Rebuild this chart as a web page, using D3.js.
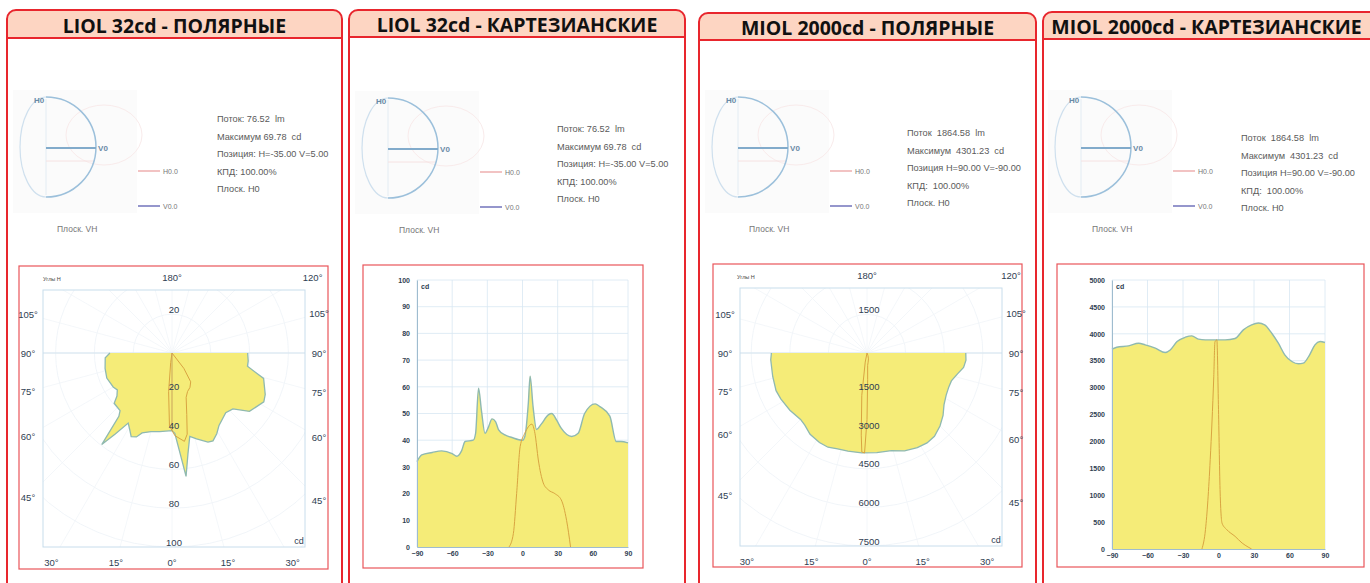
<!DOCTYPE html>
<html>
<head>
<meta charset="utf-8">
<script src="https://cdn.jsdelivr.net/npm/d3@7"></script>
<style>
  body { margin: 0; background: #fff; }
  svg { display: block; }
</style>
</head>
<body>
<svg id="chart" width="1370" height="583"></svg>
<script>
// titles and info texts
const titles = ["LIOL 32cd - ПОЛЯРНЫЕ", "LIOL 32cd - КАРТЕЗИАНСКИЕ", "MIOL 2000cd - ПОЛЯРНЫЕ", "MIOL 2000cd - КАРТЕЗИАНСКИЕ"];
const liolInfo = ["Поток: 76.52  lm", "Максимум 69.78  cd", "Позиция: H=-35.00 V=5.00", "КПД: 100.00%", "Плоск. H0"];
const miolInfo = ["Поток  1864.58  lm", "Максимум  4301.23  cd", "Позиция H=90.00 V=-90.00", "КПД:  100.00%", "Плоск. H0"];
const legendLabels = ["H0.0", "V0.0"];

// LIOL 32cd, plane V0 (main curve) and H0
const liolVAngles = [-90, -86, -77, -69, -60, -56, -52, -49, -42, -40, -37.5, -35, -32, -29, -26, -23, -20.5, -15, -9, 0, 2, 5, 6.5, 9, 12, 16, 22, 25, 29, 33, 42, 47.5, 53, 62, 66, 74.5, 80, 84, 90];
const liolV = [32, 34.5, 35.4, 36, 35, 34, 36, 39.5, 40, 42.6, 59.5, 51, 42.6, 45, 48, 47, 44, 42, 41, 40, 41.4, 54, 64, 52.6, 44, 46, 49.5, 50, 47.6, 44.5, 41.4, 42.6, 50, 53.6, 52.6, 49, 39.5, 39.5, 39];
const liolHAngles = [-11.5, -7.8, -5, -2, 2, 8, 10.6, 13.5, 17.7, 22, 27.6, 33, 37.6, 41];
const liolH = [0, 5, 20, 37.6, 42.6, 46, 42.6, 32.6, 24, 21.4, 20, 17.7, 10, 0];

// MIOL 2000cd
const miolVAngles = [-90, -86, -76, -67.5, -62, -53.4, -45, -40.8, -35, -28, -22.5, -17, -11, -3, 5.6, 14, 21, 28, 33.75, 39, 45, 50.6, 56, 62, 67.5, 71.7, 77, 81.5, 85.8, 90];
const miolV = [3714, 3750, 3776, 3825, 3795, 3733, 3652, 3700, 3856, 3937, 3962, 3900, 3887, 3887, 3887, 3912, 4073, 4166, 4200, 4166, 4011, 3825, 3609, 3485, 3442, 3454, 3609, 3795, 3856, 3838];
const miolHAngles = [-14, -11, -7, -4, -3, -1.4, 0, 1.4, 3, 7, 14, 20, 25, 28];
const miolH = [0, 360, 1660, 3200, 3850, 3887, 2590, 1040, 480, 360, 235, 110, 37, 0];

// ticks
const polarAngleTicks = [0, 15, 30, 45, 60, 75, 90, 105, 120, 180];
const liolRadTicks = [20, 40, 60, 80, 100];
const miolRadTicks = [1500, 3000, 4500, 6000, 7500];
const cartAngleTicks = [-90, -60, -30, 0, 30, 60, 90];
const liolCdTicks = [0, 10, 20, 30, 40, 50, 60, 70, 80, 90, 100];
const miolCdTicks = [0, 500, 1000, 1500, 2000, 2500, 3000, 3500, 4000, 4500, 5000];

const RED = "#e8262d";
const FILL = "#f5ec78";
const EDGE = "#8fb9b0";
const H0COL = "#d9a441";
const GRID = "#d8e7f2";
const LABEL = "#2f4052";

const svg = d3.select("#chart");
const zip = (a, b) => a.map((d, i) => ({ a: d, v: b[i] }));

// ---- panel frames ----
const panels = [
  { x0: 7, x1: 342, top: 10, hb: 38 },
  { x0: 349, x1: 685, top: 10, hb: 37 },
  { x0: 699, x1: 1036, top: 13, hb: 40 },
  { x0: 1043, x1: 1382, top: 12, hb: 39 }
];

panels.forEach((p, i) => {
  const r = 9;
  const g = svg.append("g");
  const topPath = (bottom) =>
    `M${p.x0},${bottom} L${p.x0},${p.top + r} A${r},${r} 0 0 1 ${p.x0 + r},${p.top} ` +
    `L${p.x1 - r},${p.top} A${r},${r} 0 0 1 ${p.x1},${p.top + r} L${p.x1},${bottom}`;
  g.append("path").attr("d", topPath(600) + "Z").attr("fill", "#fff");
  g.append("path").attr("d", topPath(p.hb) + "Z").attr("fill", "#fdd5c2");
  g.append("path").attr("d", topPath(600)).attr("fill", "none").attr("stroke", RED).attr("stroke-width", 2);
  g.append("line").attr("x1", p.x0).attr("x2", p.x1).attr("y1", p.hb).attr("y2", p.hb)
    .attr("stroke", RED).attr("stroke-width", 2);
  g.append("text")
    .attr("x", (p.x0 + p.x1) / 2 - (i === 3 ? 6 : 0))
    .attr("y", (p.top + p.hb) / 2 + 1)
    .attr("text-anchor", "middle").attr("dominant-baseline", "central")
    .attr("font-family", "Open Sans, sans-serif").attr("font-weight", 700).attr("font-size", 19.5)
    .attr("fill", "#111").text(titles[i]);
});

// ---- small orientation thumbnails + info ----
const thumbs = [
  { cx: 46, cy: 147, ix: 217, iy: 119, info: liolInfo },
  { cx: 388, cy: 148, ix: 557, iy: 129, info: liolInfo },
  { cx: 738, cy: 147, ix: 907, iy: 133, info: miolInfo },
  { cx: 1081, cy: 147, ix: 1241, iy: 138, info: miolInfo }
];

thumbs.forEach(t => {
  const g = svg.append("g");
  g.append("rect").attr("x", t.cx - 33).attr("y", t.cy - 57).attr("width", 124).attr("height", 123).attr("fill", "#fbfbfb");
  g.append("ellipse").attr("cx", t.cx + 58).attr("cy", t.cy - 12).attr("rx", 38).attr("ry", 30)
    .attr("fill", "none").attr("stroke", "#f9ebeb");
  g.append("path").attr("d", `M${t.cx},${t.cy - 50} A26,50 0 0 0 ${t.cx},${t.cy + 50}`)
    .attr("fill", "none").attr("stroke", "#cfe0ee").attr("stroke-width", 1.2);
  g.append("line").attr("x1", t.cx).attr("x2", t.cx).attr("y1", t.cy - 48).attr("y2", t.cy + 48)
    .attr("stroke", "#e3ecf3");
  g.append("line").attr("x1", t.cx).attr("x2", t.cx + 48).attr("y1", t.cy + 14).attr("y2", t.cy + 14)
    .attr("stroke", "#f6e2e2");
  g.append("path").attr("d", `M${t.cx},${t.cy - 50} A50,50 0 0 1 ${t.cx},${t.cy + 50}`)
    .attr("fill", "none").attr("stroke", "#9cc0db").attr("stroke-width", 1.5);
  g.append("line").attr("x1", t.cx).attr("x2", t.cx + 50).attr("y1", t.cy + 1).attr("y2", t.cy + 1)
    .attr("stroke", "#82abcb").attr("stroke-width", 2);
  g.append("text").attr("x", t.cx - 7).attr("y", t.cy - 47).attr("text-anchor", "middle").attr("dominant-baseline", "central")
    .attr("font-family", "Arial, sans-serif").attr("font-size", 8).attr("font-weight", 700).attr("fill", "#6a8aa6").text("H0");
  g.append("text").attr("x", t.cx + 57).attr("y", t.cy + 1).attr("text-anchor", "middle").attr("dominant-baseline", "central")
    .attr("font-family", "Arial, sans-serif").attr("font-size", 8).attr("font-weight", 700).attr("fill", "#6a8aa6").text("V0");
  g.append("text").attr("x", t.cx + 11).attr("y", t.cy + 82).attr("dominant-baseline", "central")
    .attr("font-family", "Arial, sans-serif").attr("font-size", 8.5).attr("fill", "#777").text("Плоск. VH");

  // legend
  const legCol = ["#eba3a3", "#9596cc"];
  legendLabels.forEach((lab, k) => {
    const y = t.cy + 24 + k * 35;
    g.append("line").attr("x1", t.cx + 92).attr("x2", t.cx + 114).attr("y1", y).attr("y2", y)
      .attr("stroke", legCol[k]).attr("stroke-width", k ? 2 : 1.3);
    g.append("text").attr("x", t.cx + 117).attr("y", y).attr("dominant-baseline", "central")
      .attr("font-family", "Arial, sans-serif").attr("font-size", 7).attr("fill", "#777").text(lab);
  });

  // info lines
  g.selectAll(".info").data(t.info).enter().append("text")
    .attr("x", t.ix).attr("y", (d, k) => t.iy + k * 17.6).attr("dominant-baseline", "central")
    .attr("font-family", "Arial, sans-serif").attr("font-size", 9.2).attr("fill", "#5a5a5a")
    .attr("xml:space", "preserve").style("white-space", "pre").text(d => d);
});

// ---- polar charts ----
function polarChart(o) {
  const g = svg.append("g");
  g.append("rect").attr("x", o.box[0]).attr("y", o.box[1]).attr("width", o.box[2] - o.box[0]).attr("height", o.box[3] - o.box[1])
    .attr("fill", "#fff").attr("stroke", "#e9555a").attr("stroke-width", 1.2);

  const f = o.frame;
  const r = d3.scaleLinear().domain([0, o.max]).range([0, f.bottom - o.cy]);
  const clipId = "clip" + o.id;
  g.append("clipPath").attr("id", clipId).append("rect")
    .attr("x", f.left).attr("y", f.top).attr("width", f.right - f.left).attr("height", f.bottom - f.top);

  const grid = g.append("g").attr("clip-path", `url(#${clipId})`);
  const step = o.radTicks[0];
  d3.range(step, o.max * 1.5, step).forEach(v => {
    grid.append("circle").attr("cx", o.cx).attr("cy", o.cy).attr("r", r(v))
      .attr("fill", "none").attr("stroke", "#eef3f8").attr("stroke-width", 0.8);
  });
  d3.range(-180, 180, 15).forEach(a => {
    const rad = a * Math.PI / 180, len = 400;
    grid.append("line").attr("x1", o.cx).attr("y1", o.cy)
      .attr("x2", o.cx + len * Math.sin(rad)).attr("y2", o.cy + len * Math.cos(rad))
      .attr("stroke", "#f1f5f9").attr("stroke-width", 0.8);
  });
  grid.append("line").attr("x1", f.left).attr("x2", f.right).attr("y1", o.cy).attr("y2", o.cy)
    .attr("stroke", "#d3e3ee");

  g.append("rect").attr("x", f.left).attr("y", f.top).attr("width", f.right - f.left).attr("height", f.bottom - f.top)
    .attr("fill", "none").attr("stroke", "#c8ddec");

  const ang = d => Math.PI - d.a * Math.PI / 180;
  const main = zip(o.vAngles, o.v);
  const area = d3.areaRadial().angle(ang).innerRadius(0).outerRadius(d => r(d.v));
  const line = d3.lineRadial().angle(ang).radius(d => r(d.v));
  const plot = g.append("g").attr("transform", `translate(${o.cx},${o.cy})`);
  plot.append("path").attr("d", area(main)).attr("fill", FILL);
  plot.append("path").attr("d", line(main)).attr("fill", "none").attr("stroke", EDGE).attr("stroke-width", 1.3);
  plot.append("path").attr("d", line(zip(o.hAngles, o.h))).attr("fill", "none").attr("stroke", H0COL).attr("stroke-width", 1);
  plot.append("line").attr("x1", 0).attr("x2", 0).attr("y1", 0).attr("y2", r(o.v[o.vAngles.indexOf(0)] || 0))
    .attr("stroke", "#c9a35a").attr("stroke-width", 1);

  // angle labels on the frame (the top-left corner one sits under the "Углы H" box)
  const B = { l: f.left - 15, r: f.right + 14, t: f.top - 13, b: f.bottom + 15 };
  const angLabels = [];
  polarAngleTicks.forEach(a => {
    if (a === 0 || a === 180) angLabels.push(a);
    else if (a === 120) angLabels.push(a);
    else angLabels.push(-a, a);
  });
  angLabels.forEach(a => {
    const rad = a * Math.PI / 180, dx = Math.sin(rad), dy = Math.cos(rad);
    const ts = [];
    if (dx > 1e-6) ts.push((B.r - o.cx) / dx);
    if (dx < -1e-6) ts.push((B.l - o.cx) / dx);
    if (dy > 1e-6) ts.push((B.b - o.cy) / dy);
    if (dy < -1e-6) ts.push((B.t - o.cy) / dy);
    const t = d3.min(ts);
    g.append("text").attr("x", o.cx + t * dx + (a === 120 ? 9 : 0)).attr("y", o.cy + t * dy)
      .attr("text-anchor", "middle").attr("dominant-baseline", "central")
      .attr("font-family", "Arial, sans-serif").attr("font-size", 9.5).attr("fill", LABEL)
      .text(Math.abs(a) + "°");
  });

  // radial value labels
  const radLabels = [{ v: o.radTicks[0], up: true }].concat(o.radTicks.map(v => ({ v, up: false })));
  g.selectAll(".rl").data(radLabels).enter().append("text")
    .attr("x", o.cx + 2).attr("y", d => d.up ? o.cy - r(d.v) - 5 : o.cy + r(d.v) - 5)
    .attr("text-anchor", "middle").attr("dominant-baseline", "central")
    .attr("font-family", "Arial, sans-serif").attr("font-size", 9.5).attr("fill", LABEL)
    .text(d => d.v);
  g.append("text").attr("x", f.right - 6).attr("y", f.bottom - 6).attr("text-anchor", "middle").attr("dominant-baseline", "central")
    .attr("font-family", "Arial, sans-serif").attr("font-size", 9).attr("fill", LABEL).text("cd");

  // "Углы H" box
  g.append("rect").attr("x", o.box[0] + 4).attr("y", o.box[1] + 4).attr("width", 88).attr("height", 17).attr("fill", "#fff");
  g.append("text").attr("x", o.box[0] + 24).attr("y", o.box[1] + 13).attr("dominant-baseline", "central")
    .attr("font-family", "Arial, sans-serif").attr("font-size", 5.5).attr("fill", "#444").text("Углы H");
}

polarChart({
  id: 1, box: [19, 266, 328, 569], cx: 172, cy: 353, max: 100,
  frame: { left: 43, right: 305, top: 290, bottom: 547 },
  vAngles: liolVAngles, v: liolV, hAngles: liolHAngles, h: liolH, radTicks: liolRadTicks
});
polarChart({
  id: 3, box: [713, 264, 1022, 567], cx: 867, cy: 353, max: 7500,
  frame: { left: 740, right: 1002, top: 288, bottom: 546 },
  vAngles: miolVAngles, v: miolV, hAngles: miolHAngles, h: miolH, radTicks: miolRadTicks
});

// ---- cartesian charts ----
function cartChart(o) {
  const g = svg.append("g");
  g.append("rect").attr("x", o.box[0]).attr("y", o.box[1]).attr("width", o.box[2] - o.box[0]).attr("height", o.box[3] - o.box[1])
    .attr("fill", "#fff").attr("stroke", "#e9555a").attr("stroke-width", 1.2);

  const x = d3.scaleLinear().domain([-90, 90]).range(o.xr);
  const y = d3.scaleLinear().domain([0, o.max]).range(o.yr);

  g.selectAll(".vg").data(cartAngleTicks).enter().append("line")
    .attr("x1", d => x(d)).attr("x2", d => x(d)).attr("y1", o.yr[0]).attr("y2", o.yr[1])
    .attr("stroke", GRID).attr("stroke-width", 0.8);
  g.selectAll(".hg").data(o.cdTicks).enter().append("line")
    .attr("x1", o.xr[0]).attr("x2", o.xr[1]).attr("y1", d => y(d)).attr("y2", d => y(d))
    .attr("stroke", GRID).attr("stroke-width", 0.8);

  const main = zip(o.vAngles, o.v);
  const area = d3.area().x(d => x(d.a)).y0(y(0)).y1(d => y(d.v)).curve(d3.curveMonotoneX);
  const line = d3.line().x(d => x(d.a)).y(d => y(d.v)).curve(d3.curveMonotoneX);
  g.append("path").attr("d", area(main)).attr("fill", FILL);
  g.append("path").attr("d", line(main)).attr("fill", "none").attr("stroke", EDGE).attr("stroke-width", 1.4);
  g.append("path").attr("d", line(zip(o.hAngles, o.h))).attr("fill", "none").attr("stroke", H0COL).attr("stroke-width", 1);

  const yAxis = d3.axisLeft(y).tickValues(o.cdTicks).tickFormat(d3.format("d")).tickSize(0).tickPadding(7);
  const ya = g.append("g").attr("transform", `translate(${o.xr[0]},0)`).call(yAxis);
  const xAxis = d3.axisBottom(x).tickValues(cartAngleTicks).tickFormat(d3.format("d")).tickSize(0).tickPadding(4);
  const xa = g.append("g").attr("transform", `translate(0,${o.yr[0]})`).call(xAxis);
  [ya, xa].forEach(a => {
    a.select(".domain").attr("stroke", "#9fbccf");
    a.selectAll("text").attr("font-family", "Arial, sans-serif").attr("font-size", 7)
      .attr("font-weight", 700).attr("fill", LABEL);
  });
  g.append("text").attr("x", o.xr[0] + 4).attr("y", o.yr[1] + 6).attr("dominant-baseline", "central")
    .attr("font-family", "Arial, sans-serif").attr("font-size", 7).attr("font-weight", 700).attr("fill", LABEL).text("cd");
}

cartChart({
  box: [363, 265, 643, 568], xr: [417, 628], yr: [547, 280], max: 100, cdTicks: liolCdTicks,
  vAngles: liolVAngles, v: liolV, hAngles: liolHAngles, h: liolH
});
cartChart({
  box: [1057, 264, 1364, 567], xr: [1112, 1325], yr: [549, 280], max: 5000, cdTicks: miolCdTicks,
  vAngles: miolVAngles, v: miolV, hAngles: miolHAngles, h: miolH
});
</script>
</body>
</html>
